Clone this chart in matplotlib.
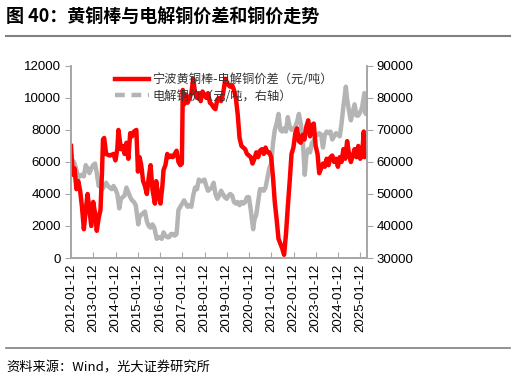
import pandas as pd
import matplotlib
matplotlib.use("Agg")
import matplotlib.pyplot as plt
from matplotlib.lines import Line2D

plt.rcParams['font.family'] = ['Liberation Sans', 'Noto Sans CJK SC', 'DejaVu Sans']

# 宁波黄铜棒-电解铜价差 (元/吨, left axis)
spread_dates = [
    "2012-01-12", "2012-02-10", "2012-03-10", "2012-04-10", "2012-05-10", "2012-06-10",
    "2012-07-10", "2012-08-10", "2012-09-10", "2012-10-10", "2012-11-10", "2012-12-10",
    "2013-01-10", "2013-02-10", "2013-03-10", "2013-04-10", "2013-05-10", "2013-06-05",
    "2013-06-20", "2013-07-10", "2013-08-10", "2013-10-10", "2013-12-10", "2014-01-10",
    "2014-02-10", "2014-03-01", "2014-04-10", "2014-05-10", "2014-06-10", "2014-07-10",
    "2014-08-10", "2014-09-10", "2014-10-10", "2014-11-10", "2014-12-20", "2015-01-15",
    "2015-02-10", "2015-03-10", "2015-04-10", "2015-05-10", "2015-06-10", "2015-07-10",
    "2015-08-10", "2015-09-10", "2015-10-20", "2015-11-10", "2015-12-10", "2016-01-20",
    "2016-02-20", "2016-03-10", "2016-04-10", "2016-05-10", "2016-06-10", "2016-07-10",
    "2016-08-10", "2016-09-10", "2016-10-10", "2016-11-10", "2016-12-10", "2017-01-05",
    "2017-01-20", "2017-02-10", "2017-03-10", "2017-04-10", "2017-05-10", "2017-06-10",
    "2017-07-10", "2017-08-10", "2017-09-10", "2017-10-10", "2017-11-10", "2017-12-10",
    "2018-01-10", "2018-02-10", "2018-03-10", "2018-04-10", "2018-05-10", "2018-06-10",
    "2018-07-10", "2018-08-10", "2018-09-10", "2018-10-10", "2018-11-10", "2018-12-20",
    "2019-01-10", "2019-02-10", "2019-03-10", "2019-04-10", "2019-05-10", "2019-06-10",
    "2019-07-10", "2019-08-10", "2019-09-10", "2019-10-10", "2019-11-10", "2019-12-10",
    "2020-01-10", "2020-02-10", "2020-03-10", "2020-04-10", "2020-05-10", "2020-06-10",
    "2020-07-10", "2020-08-10", "2020-09-10", "2020-10-10", "2020-11-10", "2020-12-10",
    "2021-01-10", "2021-02-10", "2021-03-10", "2021-04-10", "2021-05-10", "2021-06-10",
    "2021-07-10", "2021-08-10", "2021-09-10", "2021-10-10", "2021-11-10", "2021-12-10",
    "2022-01-10", "2022-02-10", "2022-03-10", "2022-04-10", "2022-05-10", "2022-06-10",
    "2022-07-10", "2022-08-10", "2022-09-10", "2022-10-10", "2022-11-10", "2022-12-10",
    "2023-01-10", "2023-02-10", "2023-03-10", "2023-04-10", "2023-05-10", "2023-06-10",
    "2023-07-10", "2023-08-10", "2023-09-10", "2023-10-10", "2023-11-10", "2023-12-10",
    "2024-01-10", "2024-02-10", "2024-03-10", "2024-04-10", "2024-05-10", "2024-06-10",
    "2024-07-10", "2024-08-10", "2024-09-10", "2024-10-10", "2024-11-10", "2024-12-10",
    "2025-01-10", "2025-02-10", "2025-03-10", "2025-03-25", "2025-04-25",
]
spread = [
    7000, 5200, 5600, 4300, 4800, 4200,
    3200, 1800, 3000, 4000, 3000, 2000,
    3500, 2800, 1700, 2500, 3000, 5500,
    7400, 7500, 6500, 6400, 6500, 6100,
    6800, 8000, 6800, 7000, 6500, 7200,
    6200, 7800, 7600, 7900, 8000, 5400,
    6300, 5800, 4800, 4500, 4000, 5000,
    5800, 4300, 3400, 4800, 4000, 3400,
    4500, 5500, 5800, 6500, 6300, 6400,
    6300, 6500, 6700, 6000, 5800, 5900,
    10500, 9600, 10200, 9700, 10000, 10300,
    11200, 10300, 10000, 10300, 9800, 10400,
    10200, 10000, 10300, 9700, 9600, 9400,
    9300, 9900, 10000, 9800, 10200, 11200,
    11000, 10800, 10700, 10800, 10500, 10000,
    9000, 7500, 7000, 6900, 6800, 6500,
    6400, 6300, 5900, 6200, 6600, 6300,
    6700, 6800, 6500, 6900, 6600, 6600,
    6300, 5000, 3500, 2400, 1200, 900,
    600, 200, 1500, 3200, 4800, 6500,
    6900, 7800, 8100, 7300, 7200, 7700,
    7400, 8200, 8600, 7600, 8300, 8400,
    7000, 6500, 5300, 5600, 5900, 5700,
    6200, 5800, 6300, 6400, 6000, 6200,
    5700, 6300, 6000, 6800, 6200, 7300,
    6500, 6000, 6400, 6800, 6300, 7000,
    6200, 6400, 7900, 6300, 6600,
]

# 电解铜价 (元/吨, right axis)
copper_dates = [
    "2012-01-12", "2012-02-10", "2012-03-10", "2012-04-10", "2012-05-10", "2012-06-10",
    "2012-07-10", "2012-08-10", "2012-09-10", "2012-10-10", "2012-11-10", "2012-12-10",
    "2013-01-10", "2013-02-10", "2013-03-10", "2013-04-10", "2013-05-10", "2013-06-10",
    "2013-07-10", "2013-08-10", "2013-09-10", "2013-10-10", "2013-11-10", "2013-12-10",
    "2014-01-10", "2014-02-10", "2014-03-15", "2014-04-10", "2014-05-10", "2014-06-10",
    "2014-07-10", "2014-08-10", "2014-09-10", "2014-10-10", "2014-11-10", "2014-12-10",
    "2015-01-20", "2015-02-10", "2015-03-10", "2015-04-10", "2015-05-10", "2015-06-10",
    "2015-07-10", "2015-08-10", "2015-09-10", "2015-10-10", "2015-11-20", "2015-12-10",
    "2016-01-10", "2016-02-10", "2016-03-10", "2016-04-10", "2016-05-10", "2016-06-10",
    "2016-07-10", "2016-08-10", "2016-09-10", "2016-10-10", "2016-11-10", "2016-12-10",
    "2017-01-10", "2017-02-10", "2017-03-10", "2017-04-10", "2017-05-10", "2017-06-10",
    "2017-07-10", "2017-08-10", "2017-09-10", "2017-10-10", "2017-11-10", "2017-12-10",
    "2018-01-10", "2018-02-10", "2018-03-10", "2018-04-10", "2018-05-10", "2018-06-10",
    "2018-07-10", "2018-08-10", "2018-09-10", "2018-10-10", "2018-11-10", "2018-12-10",
    "2019-01-10", "2019-02-10", "2019-03-10", "2019-04-10", "2019-05-10", "2019-06-10",
    "2019-07-10", "2019-08-10", "2019-09-10", "2019-10-10", "2019-11-10", "2019-12-10",
    "2020-01-10", "2020-02-10", "2020-03-20", "2020-04-10", "2020-05-10", "2020-06-10",
    "2020-07-10", "2020-08-10", "2020-09-10", "2020-10-10", "2020-11-10", "2020-12-10",
    "2021-01-10", "2021-02-10", "2021-03-10", "2021-04-10", "2021-05-10", "2021-06-10",
    "2021-07-10", "2021-08-10", "2021-09-10", "2021-10-10", "2021-11-10", "2021-12-10",
    "2022-01-10", "2022-02-10", "2022-03-10", "2022-04-10", "2022-05-10", "2022-06-10",
    "2022-07-15", "2022-08-10", "2022-09-10", "2022-10-10", "2022-11-10", "2022-12-10",
    "2023-01-10", "2023-02-10", "2023-03-10", "2023-04-10", "2023-05-10", "2023-06-10",
    "2023-07-10", "2023-08-10", "2023-09-10", "2023-10-10", "2023-11-10", "2023-12-10",
    "2024-01-10", "2024-02-10", "2024-03-10", "2024-04-10", "2024-05-20", "2024-06-10",
    "2024-07-10", "2024-08-10", "2024-09-10", "2024-10-10", "2024-11-10", "2024-12-10",
    "2025-01-10", "2025-02-10", "2025-03-20", "2025-04-10", "2025-04-25",
]
copper = [
    59000, 60500, 59500, 57500, 55000, 55800,
    56000, 55500, 59000, 58000, 56500, 58000,
    59000, 59500, 56500, 52500, 53000, 51500,
    52500, 53500, 52500, 52000, 51500, 52500,
    51500, 50000, 45500, 48500, 49000, 49500,
    52000, 50500, 49000, 48000, 47500, 46500,
    40500, 43000, 43500, 44000, 44500, 41500,
    40000, 39500, 40500, 39500, 36000, 36500,
    36500, 36000, 38000, 37000, 36500, 36500,
    37500, 37500, 37000, 37500, 45000, 46000,
    47000, 48000, 47000, 46000, 46500, 46000,
    49500, 52000, 51500, 54500, 54000, 54000,
    54500, 52500, 51000, 51500, 52000, 53500,
    50000, 48500, 49500, 51000, 50000, 49000,
    48500, 49500, 50000, 49500, 47500, 47000,
    47500, 46500, 47500, 47000, 47500, 49000,
    49000, 45000, 39000, 42000, 43500, 47500,
    51500, 51500, 51000, 52000, 55000, 58000,
    59500, 66000, 70000, 72000, 75000, 70000,
    69500, 70500, 69500, 74000, 71000, 70000,
    70500, 71000, 72500, 75000, 72000, 68000,
    56000, 62000, 64000, 63000, 66000, 66500,
    68500, 68500, 69000, 68500, 64500, 68500,
    69500, 69000, 69500, 67000, 68000, 69000,
    68500, 68000, 72000, 77500, 83500, 79500,
    76000, 73000, 75500, 78000, 74500, 74500,
    75500, 77000, 81500, 75000, 78000,
]

tick_years = list(range(2012, 2026))

spread_x = pd.to_datetime(spread_dates)
copper_x = pd.to_datetime(copper_dates)
red = "#ff0000"
grey = "#b4b4b4"
spine_c = "#a6a6a6"

fig = plt.figure(figsize=(5.16, 3.81), dpi=100)
ax = fig.add_axes([0.1376, 0.3228, 0.5734, 0.5042])
ax2 = ax.twinx()

ax.plot(spread_x, spread, color=red, lw=3.2, solid_joinstyle="round")
ax2.plot(copper_x, copper, color=grey, lw=3.2, solid_joinstyle="round")

# red line drawn over the grey one
ax.set_zorder(ax2.get_zorder() + 1)
ax.patch.set_visible(False)

ax.set_ylim(0, 12000)
ax.set_yticks(range(0, 12001, 2000))
ax2.set_ylim(30000, 90000)
ax2.set_yticks(range(30000, 90001, 10000))
ax.set_xlim(pd.Timestamp("2012-01-12"), pd.Timestamp("2025-04-30"))
ticks = [pd.Timestamp(f"{y}-01-12") for y in tick_years]
ax.set_xticks(ticks)
ax.set_xticklabels([t.strftime("%Y-%m-%d") for t in ticks], rotation=90)

for a in (ax, ax2):
    a.spines["top"].set_visible(False)
    for s in ("left", "right", "bottom"):
        a.spines[s].set_color(spine_c)
        a.spines[s].set_linewidth(1.2)
ax.tick_params(axis="y", direction="out", length=4, color=spine_c, labelsize=9.5, pad=3)
ax2.tick_params(axis="y", direction="out", length=4, color=spine_c, labelsize=9.5, pad=3)
ax.tick_params(axis="x", direction="in", length=4, color=spine_c, labelsize=9.5, pad=4)

handles = [
    Line2D([], [], color=red, lw=3.2),
    Line2D([], [], color=grey, lw=3.2, dashes=(2.2, 1.5)),
]
labels = ["宁波黄铜棒-电解铜价差（元/吨）", "电解铜价（元/吨，右轴）"]
ax.legend(handles, labels, loc="upper left", bbox_to_anchor=(0.11, 1.02),
          frameon=False, handlelength=2.8, handletextpad=0.3,
          labelspacing=0.3, labelcolor="#333333",
          prop={"family": ["Noto Sans CJK SC"], "size": 8.8})

fig.text(0.012, 0.955, "图 40：黄铜棒与电解铜价差和铜价走势", fontsize=13,
         fontweight="bold", family=["Noto Sans CJK SC"], va="center", ha="left")
fig.add_artist(Line2D([0.012, 0.988], [0.905, 0.905], color="#808080", lw=1.5))
fig.add_artist(Line2D([0.012, 0.988], [0.087, 0.087], color="#808080", lw=1.2))
fig.text(0.012, 0.035, "资料来源：Wind，光大证券研究所", fontsize=9.5,
         family=["Noto Sans CJK SC"], va="center", ha="left")

fig.savefig("out.png", dpi=100)
plt.close(fig)
